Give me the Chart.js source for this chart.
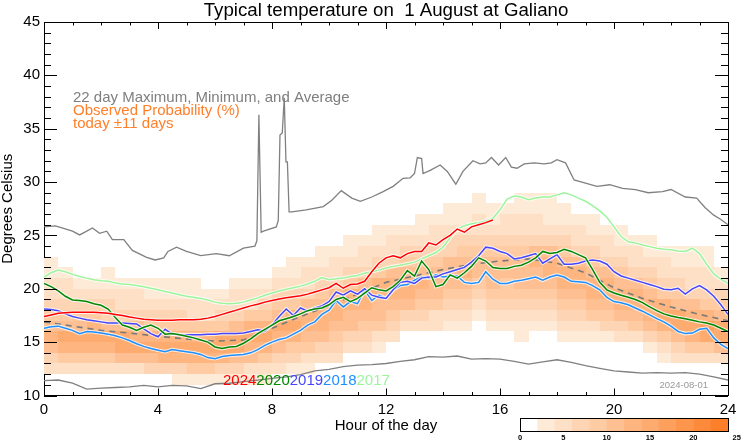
<!DOCTYPE html>
<html><head><meta charset="utf-8">
<script src="https://cdn.jsdelivr.net/npm/chart.js@4.4.1/dist/chart.umd.min.js"></script>
<style>html,body{margin:0;padding:0;background:#fff}</style>
</head><body>
<canvas id="c" width="742" height="445"></canvas>
<script>
// ---------- DATA ----------
const FONT = '"Liberation Sans", Arial, Helvetica, sans-serif';
const titleText = 'Typical temperature on  1 August at Galiano';
const xTickStep = 4;
const yTickStep = 5;

// quarter-hour positions 0..24
const hoursQ = []; for (let i = 0; i <= 96; i++) hoursQ.push(i / 4);

const t2024 = [
 17.4,17.55,17.7,17.75,17.8,17.8,17.8,17.8,
 17.75,17.7,17.6,17.5,17.35,17.25,17.15,17.1,
 17.05,17.05,17.05,17.1,17.1,17.1,17.15,17.25,
 17.4,17.6,17.8,18.0,18.2,18.4,18.55,18.75,
 18.9,19.05,19.15,19.25,19.35,19.5,19.7,19.9,
 20.1,20.5,20.05,20.4,20.45,20.7,21.6,22.4,
 22.9,23.1,22.9,23.3,23.5,23.5,24.3,24.1,
 24.6,25.0,25.6,25.3,25.8,26.0,26.2,26.45,
 null,null,null,null,null,null,null,null,
 null,null,null,null,null,null,null,null,
 null,null,null,null,null,null,null,null,
 null,null,null,null,null,null,null,null,
 null];
const t2020 = [
 20.5,20.2,19.8,19.3,18.95,18.9,18.8,18.6,
 18.45,18.1,17.3,16.6,16.4,16.1,16.4,16.6,
 16.3,15.75,15.8,15.7,15.55,15.4,15.2,15.0,
 14.55,14.4,14.55,14.6,14.9,15.3,15.8,16.2,
 16.6,17.0,17.2,17.4,17.65,17.95,18.1,18.2,
 18.5,19.0,19.2,18.8,19.1,19.6,20.1,19.9,
 19.8,20.2,20.8,21.7,21.2,22.6,21.8,20.2,
 20.4,21.3,21.0,21.5,22.1,22.9,22.6,22.0,
 21.9,21.9,22.1,22.2,22.5,22.9,23.5,23.3,
 23.4,23.7,23.5,23.2,22.9,21.8,20.6,19.9,
 19.6,19.4,19.2,19.0,18.7,18.3,17.95,17.65,
 17.45,17.3,17.2,17.05,16.9,16.8,16.6,16.3,
 16.0];
const t2019 = [
 18.1,18.05,17.95,17.65,17.4,17.25,17.1,17.0,
 16.9,16.8,16.8,16.8,16.75,16.7,16.25,15.8,
 15.5,16.2,15.75,15.7,15.7,15.7,15.7,15.75,
 15.75,15.8,15.8,15.8,15.85,16.0,16.15,16.05,
 16.6,17.4,18.1,17.5,18.2,17.9,18.2,18.4,
 18.8,19.7,19.4,19.8,19.5,20.0,19.4,19.2,
 19.1,19.9,20.6,20.7,20.5,21.0,21.1,21.1,
 21.4,21.6,21.8,22.0,22.5,23.1,23.9,23.8,
 23.5,23.3,22.8,22.9,23.1,23.3,22.4,22.8,
 23.2,22.3,22.3,22.4,22.6,22.7,22.6,22.3,
 21.6,21.2,21.0,20.8,20.6,20.4,20.2,19.95,
 19.9,20.05,19.5,20.0,20.3,19.9,19.3,18.5,
 17.6];
const t2018 = [
 16.3,16.45,16.5,16.3,16.1,15.8,16.0,15.95,
 15.85,15.75,15.6,15.4,15.15,14.85,14.6,14.4,
 14.25,14.1,14.3,14.2,14.1,14.0,13.85,13.55,
 13.45,13.65,13.75,13.8,13.85,14.0,14.3,14.7,
 15.0,15.25,15.4,15.75,16.1,16.6,16.9,17.6,
 18.0,18.9,18.3,18.8,18.6,19.9,18.9,19.4,
 19.1,19.9,20.3,20.4,20.8,21.1,21.0,21.3,
 21.1,21.2,21.2,20.6,20.5,20.6,21.6,20.9,
 20.5,20.5,20.7,20.8,20.95,21.1,20.8,21.1,
 21.3,21.1,20.7,20.65,20.6,20.3,19.9,19.2,
 18.8,18.7,18.5,18.2,17.9,17.55,17.2,16.9,
 16.5,16.0,15.8,15.85,16.2,16.3,15.4,14.8,
 14.4];
const t2017 = [
 21.1,21.5,21.75,21.6,21.35,21.15,21.0,20.85,
 20.75,20.7,20.55,20.45,20.4,20.3,20.2,20.05,
 19.9,19.75,19.6,19.45,19.3,19.2,19.1,18.95,
 18.75,18.65,18.6,18.65,18.75,18.95,19.15,19.4,
 19.6,19.8,19.95,20.1,20.25,20.45,20.7,21.05,
 20.85,20.95,21.0,21.15,21.25,21.45,21.6,21.75,
 21.95,22.1,22.2,22.35,22.5,22.8,23.1,23.4,
 23.9,24.8,25.6,25.9,26.1,26.2,26.35,26.6,
 27.4,28.4,28.7,28.6,28.35,28.5,28.6,28.6,
 28.8,29.0,28.8,28.5,28.2,27.8,27.3,26.7,
 25.8,24.9,24.4,24.3,24.1,23.95,23.8,23.7,
 23.65,23.55,23.5,23.8,23.3,22.3,21.4,20.9,
 20.5];

const avgHours = [0,1,2,3,4,5,6,7,8,9,10,11,12,13,14,15,16,17,18,19,20,21,22,23,24];
const avgTemps = [16.9,16.5,16.1,15.85,15.55,15.3,15.1,15.2,16.3,17.4,18.4,19.5,20.6,21.2,21.8,22.3,22.6,22.8,22.4,21.5,20.1,19.1,18.3,17.6,17.0];

const maxHours = [0,0.4,1.0,1.25,1.5,1.7,1.95,2.2,2.4,2.8,3.1,3.6,3.9,4.2,4.35,4.65,5.0,5.5,6.05,6.5,
 7.0,7.4,7.47,7.54,7.62,7.7,8.15,8.22,8.28,8.36,8.43,8.49,8.54,8.6,8.7,9.2,9.8,10.1,10.43,10.8,
 11.1,11.5,11.9,12.25,12.6,12.85,13.0,13.1,13.25,13.3,13.55,13.9,14.15,14.45,14.7,15.05,15.3,15.5,15.7,15.95,
 16.2,16.4,16.6,16.85,17.2,17.55,17.8,18.0,18.3,18.6,19.0,19.4,19.85,20.3,20.75,21.2,21.7,22.0,22.5,22.9,
 23.2,23.5,23.75,24];
const maxTemps = [25.8,25.9,25.4,25.05,25.4,25.7,25.2,25.4,24.6,24.6,23.6,22.95,22.7,22.9,23.5,23.9,23.5,23.1,23.3,23.1,
 23.8,24.0,24.5,36.3,25.3,25.4,25.8,26.4,34.4,34.6,37.9,31.9,31.9,27.2,27.2,27.4,27.7,28.3,29.2,28.5,
 28.2,28.6,29.1,29.6,30.35,30.4,30.8,32.3,32.2,30.8,31.1,31.6,31.0,29.8,31.0,32.0,31.7,31.8,32.3,31.6,
 32.3,31.4,31.3,31.7,31.8,31.7,31.8,32.1,31.8,30.2,29.9,29.6,29.75,29.4,29.3,29.0,29.1,29.3,28.6,28.5,
 27.6,26.9,26.5,26.0];

const minHours = []; for (let i = 0; i <= 48; i++) minHours.push(i / 2);
const minTemps = [11.4,11.45,11.15,10.6,10.7,10.75,10.8,10.95,10.8,10.95,
 10.9,10.65,11.1,11.15,11.3,11.45,11.6,11.75,11.95,12.3,
 12.45,12.7,12.85,12.9,13.0,13.2,13.35,13.65,13.6,13.7,
 13.4,13.45,13.4,13.2,12.95,13.15,13.35,13.1,12.8,12.55,
 12.3,12.2,12.1,12.15,12.1,12.15,12.0,11.75,11.45];

// probability heat map: 48 half-hour columns; each string = levels for rows 10..29 degC (one char per 1 degC)
const heatRowStart = 10;
const heatColWidth = 0.5;
const heatCols = [
 "00235654322110000000","00246754322100000000","00246754321000000000","00246764321000000000",
 "00246753321100000000","00257753221000000000","00257653221000000000","00357643211000000000",
 "00367643211000000000","01367643211000000000","01467642211000000000","01467642210000000000",
 "01367743210000000000","01357753221000000000","01256764221000000000","01246764321000000000",
 "00235675432100000000","00134676432110000000","00124566532210000000","00023566543211000000",
 "00023456653221000000","00002355664321100000","00002345665322100000","00001245566432110000",
 "00000234566532210000","00000023566543210000","00000023456543211000","00000022455543221000",
 "00000012345553321100","00000012345654321100","00000001234554322110","00000012345554321100",
 "00000012344554322100","00000112345554322110","00000012345565322110","00000012345665321110",
 "00000123456654321100","00000123456653221000","00000124566543211000","00000134566532210000",
 "00000235665432110000","00000245665322100000","00001356654321100000","00012467643221000000",
 "00023577543211000000","00024676532211000000","00024786432211000000","00025775432100000000"
];
// colour for each 2% probability step (0..24%)
const probColors = ['#ffffff','#feebd7','#fee0c6','#fed5b4','#fecba3','#fec092','#feb580','#fdab6f','#fda05d','#fd954c','#fd8a3b','#fd7f2a'];
const probTicks = [0,5,10,15,20,25];
const probMax = 24;

const yearLabels = ['2024','2020','2019','2018','2017'];
const yearColors = ['#ff0000','#008800','#4646ff','#1e8fff','#9cf59c'];

// ---------- CHART ----------
const pts = (xs, ys) => xs.map((x, i) => ({x, y: ys[i]}));
const series = [t2024, t2020, t2019, t2018, t2017];
const datasets = [];
series.forEach((s, k) => {
  datasets.push({data: pts(hoursQ, s), borderColor: yearColors[k], borderWidth: 1.5, spanGaps: false});
  datasets.push({data: pts(hoursQ, s), borderColor: 'rgba(255,255,255,0.75)', borderWidth: 3.6, spanGaps: false});
});
datasets.push({data: pts(avgHours, avgTemps), borderColor: '#7a7a7a', borderWidth: 1.6, borderDash: [6, 5]});
datasets.push({data: pts(maxHours, maxTemps), borderColor: '#808080', borderWidth: 1.3});
datasets.push({data: pts(minHours, minTemps), borderColor: '#808080', borderWidth: 1.3});

const heatPlugin = {
  id: 'heat',
  beforeDatasetsDraw(chart) {
    const {ctx, chartArea: a, scales: {x, y}} = chart;
    ctx.save();
    ctx.beginPath(); ctx.rect(a.left, a.top, a.right - a.left, a.bottom - a.top); ctx.clip();
    heatCols.forEach((col, i) => {
      const x0 = Math.round(x.getPixelForValue(i * heatColWidth));
      const x1 = Math.round(x.getPixelForValue((i + 1) * heatColWidth));
      for (let r = 0; r < col.length; r++) {
        const lv = parseInt(col[r], 16);
        if (!lv) continue;
        const t = heatRowStart + r;
        const y0 = Math.round(y.getPixelForValue(t + 1));
        const y1 = Math.round(y.getPixelForValue(t));
        ctx.fillStyle = probColors[lv];
        ctx.fillRect(x0, y0, x1 - x0, y1 - y0);
      }
    });
    ctx.restore();
  }
};

const decorPlugin = {
  id: 'decor',
  afterDraw(chart) {
    const {ctx, chartArea: a, scales: {x, y}} = chart;
    ctx.save();
    // inward ticks
    ctx.strokeStyle = '#000'; ctx.lineWidth = 1;
    ctx.beginPath();
    for (let h = 0; h <= 24; h++) {
      const px = Math.round(x.getPixelForValue(h)) + 0.5;
      const len = (h % xTickStep === 0) ? 7 : 3.5;
      ctx.moveTo(px, a.bottom); ctx.lineTo(px, a.bottom - len);
      ctx.moveTo(px, a.top); ctx.lineTo(px, a.top + len);
    }
    for (let t = 10; t <= 45; t++) {
      const py = Math.round(y.getPixelForValue(t)) + 0.5;
      const len = (t % yTickStep === 0) ? 13 : 7;
      ctx.moveTo(a.left, py); ctx.lineTo(a.left + len, py);
      ctx.moveTo(a.right, py); ctx.lineTo(a.right - len, py);
    }
    ctx.stroke();

    // title
    ctx.fillStyle = '#000';
    ctx.font = '18.7px ' + FONT;
    ctx.textAlign = 'center'; ctx.textBaseline = 'alphabetic';
    ctx.fillText(titleText, (a.left + a.right) / 2, 15.5);

    // in-plot legend text
    ctx.textAlign = 'left';
    ctx.font = '15px ' + FONT;
    ctx.fillStyle = '#7f7f7f';
    ctx.fillText('22 day Maximum, Minimum, and Average', 73, 102);
    ctx.fillStyle = '#ff7f2a';
    ctx.fillText('Observed Probability (%)', 73, 115);
    ctx.fillText('today \u00b111 days', 73, 128);

    // year labels
    let xx = 223;
    yearLabels.forEach((s, k) => {
      ctx.fillStyle = yearColors[k];
      ctx.fillText(s, xx, 385);
      xx += ctx.measureText(s).width;
    });

    // date stamp
    ctx.fillStyle = '#999999';
    ctx.font = '9.5px ' + FONT;
    ctx.textAlign = 'right';
    ctx.fillText('2024-08-01', 708, 388);

    // colour bar
    const bx = 520, bw = 208, by = 418, bh = 13;
    const step = bw / (probColors.length);
    probColors.forEach((c, i) => {
      ctx.fillStyle = c;
      ctx.fillRect(bx + i * step, by, step + 0.5, bh);
    });
    ctx.strokeStyle = '#000'; ctx.lineWidth = 1;
    ctx.strokeRect(bx + 0.5, by + 0.5, bw, bh);
    ctx.fillStyle = '#000';
    ctx.font = 'bold 7.5px ' + FONT;
    ctx.textAlign = 'center'; ctx.textBaseline = 'middle';
    probTicks.forEach(v => ctx.fillText(String(v), bx + v * bw / probMax, 438));
    ctx.restore();
  }
};

new Chart(document.getElementById('c'), {
  type: 'line',
  data: {datasets},
  options: {
    responsive: false, animation: false, devicePixelRatio: 1,
    layout: {padding: {top: 22, left: 0, right: 0, bottom: 0}},
    elements: {point: {radius: 0}, line: {tension: 0}},
    plugins: {legend: {display: false}, tooltip: {enabled: false}, title: {display: false}},
    scales: {
      x: {type: 'linear', position: 'bottom', min: 0, max: 24,
        ticks: {stepSize: xTickStep, color: '#000', font: {family: FONT, size: 15}, padding: 5, maxRotation: 0, autoSkip: false},
        grid: {display: false, drawTicks: false},
        border: {display: true, color: '#000', width: 1},
        title: {display: true, text: 'Hour of the day', color: '#000', font: {family: FONT, size: 15}, padding: {top: 10, bottom: 10}},
        afterFit(s) { s.height = 49.5; }
      },
      x2: {type: 'linear', position: 'top', min: 0, max: 24,
        ticks: {display: false}, grid: {display: false, drawTicks: false},
        border: {display: true, color: '#000', width: 1},
        afterFit(s) { s.height = 0; }
      },
      y: {type: 'linear', position: 'left', min: 10, max: 45,
        ticks: {stepSize: yTickStep, color: '#000', font: {family: FONT, size: 15}, padding: 4},
        grid: {display: false, drawTicks: false},
        border: {display: true, color: '#000', width: 1},
        title: {display: true, text: 'Degrees Celsius', color: '#000', font: {family: FONT, size: 15, lineHeight: 1}, padding: 0},
        afterFit(s) { s.width = 44; }
      },
      y2: {type: 'linear', position: 'right', min: 10, max: 45,
        ticks: {display: false}, grid: {display: false, drawTicks: false},
        border: {display: true, color: '#000', width: 1},
        afterFit(s) { s.width = 14; }
      }
    }
  },
  plugins: [heatPlugin, decorPlugin]
});
</script>
</body></html>
